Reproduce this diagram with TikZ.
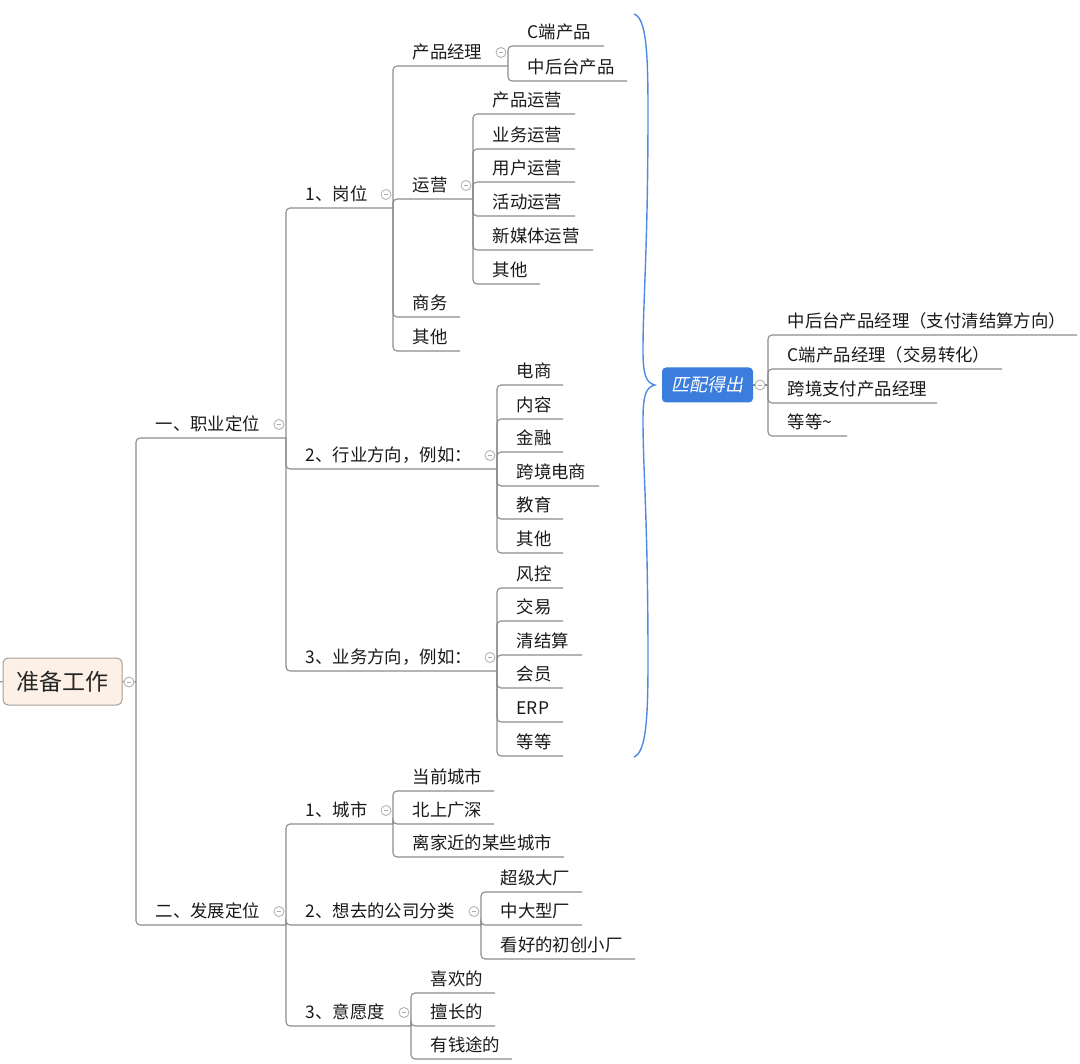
\documentclass[tikz,border=0pt]{standalone}
\usepackage{fontspec}
\setmainfont{Noto Sans CJK SC}
\newfontfamily\slantcjk[FakeSlant=0.2]{Noto Sans CJK SC}
\usetikzlibrary{calc}
\definecolor{linegray}{HTML}{8C8C8C}
\definecolor{rootfill}{HTML}{FDF1E7}
\definecolor{rootline}{HTML}{A59C96}
\definecolor{xblue}{HTML}{3B7DDD}
% #1 parent end, #2 spine x, #3 prefix, #4 label/underline y/end x
\newcommand{\kids}[4]{
	\foreach \lab/\uy/\xe [count=\i] in {#4}{
		\node[txt] (#3\i) at ({#2+19.5},{\uy-13.5}) {\lab};
		\coordinate (e#3\i) at (\xe,\uy);
		\draw[link] (#1) |- (e#3\i);
	}
}

\begin{document}
\begin{tikzpicture}[x=1pt,y=-1pt,
	txt/.style={anchor=west,inner sep=0,text height=14pt,text depth=2pt,
		font=\fontsize{17.4pt}{20pt}\selectfont,text=black!90},
	link/.style={draw=linegray,line width=1.1pt,rounded corners=4pt},
	fold/.style={circle,draw=gray!65,fill=white,line width=0.8pt,minimum size=10pt,inner sep=0,
		path picture={\draw[gray!65,line width=0.8pt]
			([xshift=-2.2pt]path picture bounding box.center) -- ([xshift=2.2pt]path picture bounding box.center);}},
	rootbox/.style={draw=rootline,fill=rootfill,rounded corners=5pt,line width=1pt,
		minimum width=119pt,minimum height=47pt,font=\fontsize{23pt}{24pt}\selectfont,text=black!85},
	matchbox/.style={fill=xblue,rounded corners=4pt,minimum width=91pt,minimum height=35pt,
		font=\fontsize{18pt}{20pt}\slantcjk,text=white},
	brc/.style={draw=xblue!90,line width=1.4pt}]
	\useasboundingbox (0,0) rectangle (1080,1064);
	
	% root
	\node[rootbox] (R) at (62.5,681.5) {准备工作};
	\coordinate (eR) at (136,682);
	\coordinate (stub) at (0,682);
	\draw[link] (stub) -- (R.west);
	\draw[link] (R.east) -- (eR);
	\node[fold] (fR) at (129,682) {};
	
	\kids{eR}{136}{L}{一、职业定位/438/286, 二、发展定位/925/286}
	
	% 职业定位
	\kids{eL1}{286}{zy}{1、岗位/208/393, 2、行业方向，例如：/469/497, 3、业务方向，例如：/671/497}
	\kids{ezy1}{393}{gw}{产品经理/66/508, 运营/199/473, 商务/317/460, 其他/351/460}
	\kids{egw1}{508}{pm}{C端产品/46/604, 中后台产品/81/627}
	\kids{egw2}{473}{yy}{产品运营/114/575, 业务运营/149/575, 用户运营/182/575,
		活动运营/216/575, 新媒体运营/250/593, 其他/284/540}
	\kids{ezy2}{497}{hy}{电商/385/563, 内容/419/563, 金融/452/563,
		跨境电商/486/599, 教育/519/563, 其他/553/563}
	\kids{ezy3}{497}{yw}{风控/588/563, 交易/621/563, 清结算/655/582,
		会员/688/563, ERP/722/563, 等等/756/563}
	
	% 发展定位
	\kids{eL2}{286}{fz}{1、城市/824/393, 2、想去的公司分类/925/481, 3、意愿度/1026/411}
	\kids{efz1}{393}{cs}{当前城市/791/494, 北上广深/824/494, 离家近的某些城市/857/564}
	\kids{efz2}{481}{gs}{超级大厂/892/582, 中大型厂/925/582, 看好的初创小厂/959/635}
	\kids{efz3}{411}{yx}{喜欢的/993/495, 擅长的/1026/495, 有钱途的/1059/512}
	
	\foreach \n in {L1,L2,zy1,zy2,zy3,fz1,fz2,fz3,gw1,gw2}
		\node[fold] (f\n) at ($(e\n |- \n.center)+(-7,0)$) {};
	
	% brace and result
	\draw[brc] (634,14) .. controls (646,18) and (648,50) .. (648,110)
		.. controls (648,250) and (643,300) .. (643,350)
		.. controls (643,375) and (646,383) .. (655,385)
		.. controls (646,387) and (643,395) .. (643,420)
		.. controls (643,470) and (648,520) .. (648,660)
		.. controls (648,720) and (646,752) .. (634,757);
	
	\node[matchbox] (M) at (707.5,385) {匹配得出};
	\coordinate (eM) at (768,385);
	\draw[link] (M.east) -- (eM);
	\node[fold] (fM) at (760,385) {};
	\kids{eM}{768}{pp}{中后台产品经理（支付清结算方向）/335/1077, C端产品经理（交易转化）/369/1002,
		跨境支付产品经理/403/937, 等等\textasciitilde/436/847}
\end{tikzpicture}
\end{document}
